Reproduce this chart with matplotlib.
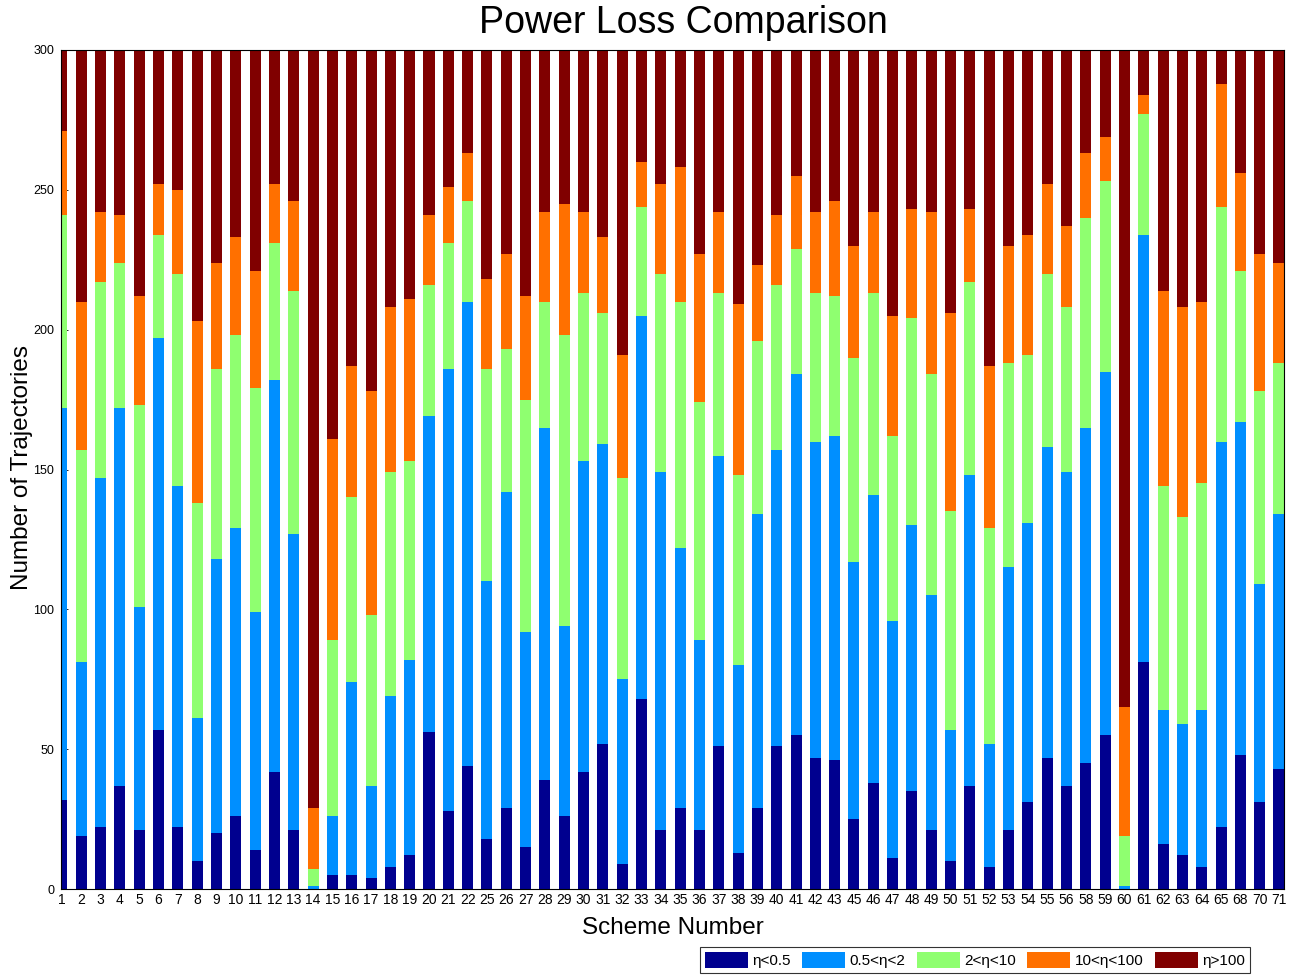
import matplotlib
matplotlib.use("Agg")
import matplotlib.pyplot as plt
import numpy as np

plt.rcParams['font.family'] = ['Liberation Sans', 'DejaVu Sans']

schemes = [1, 2, 3, 4, 5, 6, 7, 8, 9, 10, 11, 12, 13, 14, 15, 16, 17, 18, 19, 20, 21, 22,
           25, 26, 27, 28, 29, 30, 31, 32, 33, 34, 35, 36, 37, 38, 39, 40, 41, 42, 43,
           45, 46, 47, 48, 49, 50, 51, 52, 53, 54, 55, 56, 58, 59, 60, 61, 62, 63, 64, 65,
           68, 70, 71]

eta_lt_05 = [32, 19, 22, 37, 21, 57, 22, 10, 20, 26, 14, 42, 21, 0, 5, 5, 4, 8, 12, 56, 28, 44,
             18, 29, 15, 39, 26, 42, 52, 9, 68, 21, 29, 21, 51, 13, 29, 51, 55, 47, 46,
             25, 38, 11, 35, 21, 10, 37, 8, 21, 31, 47, 37, 45, 55, 0, 81, 16, 12, 8, 22,
             48, 31, 43]
eta_05_2 = [140, 62, 125, 135, 80, 140, 122, 51, 98, 103, 85, 140, 106, 1, 21, 69, 33, 61, 70, 113, 158, 166,
            92, 113, 77, 126, 68, 111, 107, 66, 137, 128, 93, 68, 104, 67, 105, 106, 129, 113, 116,
            92, 103, 85, 95, 84, 47, 111, 44, 94, 100, 111, 112, 120, 130, 1, 153, 48, 47, 56, 138,
            119, 78, 91]
eta_2_10 = [69, 76, 70, 52, 72, 37, 76, 77, 68, 69, 80, 49, 87, 6, 63, 66, 61, 80, 71, 47, 45, 36,
            76, 51, 83, 45, 104, 60, 47, 72, 39, 71, 88, 85, 58, 68, 62, 59, 45, 53, 50,
            73, 72, 66, 74, 79, 78, 69, 77, 73, 60, 62, 59, 75, 68, 18, 43, 80, 74, 81, 84,
            54, 69, 54]
eta_10_100 = [30, 53, 25, 17, 39, 18, 30, 65, 38, 35, 42, 21, 32, 22, 72, 47, 80, 59, 58, 25, 20, 17,
              32, 34, 37, 32, 47, 29, 27, 44, 16, 32, 48, 53, 29, 61, 27, 25, 26, 29, 34,
              40, 29, 43, 39, 58, 71, 26, 58, 42, 43, 32, 29, 23, 16, 46, 7, 70, 75, 65, 44,
              35, 49, 36]
eta_gt_100 = [29, 90, 58, 59, 88, 48, 50, 97, 76, 67, 79, 48, 54, 271, 139, 113, 122, 92, 89, 59, 49, 37,
              82, 73, 88, 58, 55, 58, 67, 109, 40, 48, 42, 73, 58, 91, 77, 59, 45, 58, 54,
              70, 58, 95, 57, 58, 94, 57, 113, 70, 66, 48, 63, 37, 31, 235, 16, 86, 92, 90, 12,
              44, 73, 76]

series = [eta_lt_05, eta_05_2, eta_2_10, eta_10_100, eta_gt_100]
labels = ['η<0.5', '0.5<η<2', '2<η<10', '10<η<100', 'η>100']
colors = ['#00008F', '#008FFF', '#8FFF70', '#FF7000', '#800000']

fig = plt.figure(figsize=(12.99, 9.75), dpi=100)
ax = fig.add_axes([61/1299, 86/975, (1284-61)/1299, (889-50)/975])

x = np.arange(1, len(schemes) + 1)
bottom = np.zeros(len(schemes))
handles = []
for vals, lab, col in zip(series, labels, colors):
    vals = np.array(vals, dtype=float)
    h = ax.bar(x, vals, width=0.57, bottom=bottom, color=col, edgecolor='none',
               label=lab, zorder=2)
    handles.append(h)
    bottom += vals

ax.set_xlim(0.95, 64.26)
ax.set_ylim(0, 300)
ax.set_xticks(x)
ax.set_xticklabels([str(s) for s in schemes], fontsize=10)
ax.set_yticks([0, 50, 100, 150, 200, 250, 300])
ax.tick_params(axis='y', labelsize=9, direction='in', length=5, right=True, width=0.6, pad=5)
ax.tick_params(axis='x', direction='in', length=5, top=True, width=0.6, pad=3)
ax.set_axisbelow(True)
for sp in ax.spines.values():
    sp.set_linewidth(0.8)
    sp.set_zorder(3)

fig.text(683/1299, 1 - 23/975, 'Power Loss Comparison', ha='center', va='center', fontsize=27)
ax.set_xlabel('Scheme Number', fontsize=17.5, labelpad=7)
fig.text(22/1299, 1 - 468/975, 'Number of Trajectories', rotation=90,
         ha='center', va='center', fontsize=17.5)

leg = fig.legend(handles=handles, labels=labels, loc='center', ncol=5,
                 bbox_to_anchor=(975/1299, 1 - 960/975), fontsize=11,
                 frameon=True, fancybox=False, edgecolor='black',
                 handlelength=2.8, handleheight=1.2, handletextpad=0.3,
                 columnspacing=0.75, borderpad=0.3)
leg.get_frame().set_linewidth(0.8)

fig.savefig('out.png', dpi=100)
